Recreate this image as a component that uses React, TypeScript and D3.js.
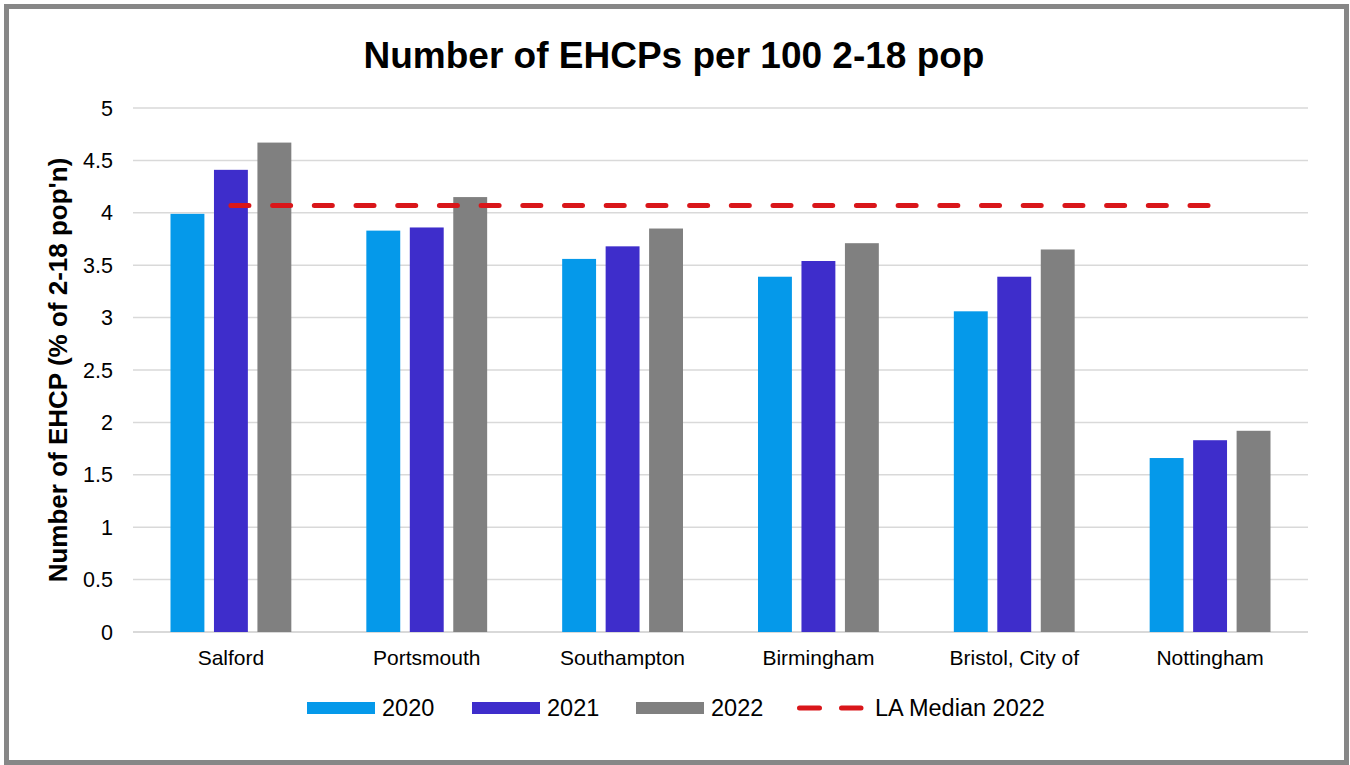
import React from "react";
import * as d3 from "d3";

const categories = ["Salford", "Portsmouth", "Southampton", "Birmingham", "Bristol, City of", "Nottingham"];
const seriesNames = ["2020", "2021", "2022"];
const values2020 = [3.99, 3.83, 3.56, 3.39, 3.06, 1.66];
const values2021 = [4.41, 3.86, 3.68, 3.54, 3.39, 1.83];
const values2022 = [4.67, 4.15, 3.85, 3.71, 3.65, 1.92];
const medianValue = 4.07;
const yTicks = [0, 0.5, 1, 1.5, 2, 2.5, 3, 3.5, 4, 4.5, 5];
const colors = ["#0599EA", "#3E2DCB", "#808080"];
const medianColor = "#D9161A";

export default function App() {
  const W = 1350, H = 765;
  const left = 133, right = 1308, top = 108, bottom = 632;
  const x = d3.scaleBand().domain(categories).range([left, right]).paddingInner(0).paddingOuter(0);
  const inner = d3.scaleBand().domain(seriesNames).range([37.5, x.bandwidth() - 37.5]).paddingInner(0.22);
  const y = d3.scaleLinear().domain([0, 5]).range([bottom, top]);
  const series = [values2020, values2021, values2022];
  const font = "Liberation Sans, Arial, sans-serif";
  const x0 = x(categories[0])! + x.bandwidth() / 2;
  const x1 = x(categories[categories.length - 1])! + x.bandwidth() / 2;
  const legendItems = [
    { label: "2020", sx: 307, tx: 382, color: colors[0] },
    { label: "2021", sx: 472, tx: 547, color: colors[1] },
    { label: "2022", sx: 636, tx: 711, color: colors[2] },
  ];
  return (
    <svg width={W} height={H} style={{ position: "absolute", left: 0, top: 0 }} fontFamily={font}>
      <rect x={0} y={0} width={W} height={H} fill="#fff" />
      <rect x={6.5} y={6.5} width={W - 10} height={H - 9} fill="#fff" stroke="#878787" strokeWidth={5} />
      <text x={674} y={68} textAnchor="middle" fontSize={37} fontWeight="bold" fill="#000">
        Number of EHCPs per 100 2-18 pop
      </text>
      {yTicks.map((t) => (
        <g key={t}>
          <line x1={left} x2={right} y1={y(t)} y2={y(t)} stroke="#d9d9d9" strokeWidth={t === 0 ? 2 : 1.5} />
          <text x={113} y={y(t)} dy="0.35em" textAnchor="end" fontSize={21.5} fill="#000">
            {t}
          </text>
        </g>
      ))}
      <text
        transform={`translate(58,${370}) rotate(-90)`}
        textAnchor="middle"
        dy="0.35em"
        fontSize={26}
        fontWeight="bold"
        fill="#000"
      >
        Number of EHCP (% of 2-18 pop'n)
      </text>
      {categories.map((c, i) => (
        <g key={c}>
          {series.map((vals, s) => (
            <rect
              key={s}
              x={x(c)! + inner(seriesNames[s])!}
              y={y(vals[i])}
              width={inner.bandwidth()}
              height={y(0) - y(vals[i])}
              fill={colors[s]}
            />
          ))}
          <text x={x(c)! + x.bandwidth() / 2} y={665} textAnchor="middle" fontSize={21} fill="#000">
            {c}
          </text>
        </g>
      ))}
      <line
        x1={x0}
        x2={x1}
        y1={y(medianValue)}
        y2={y(medianValue)}
        stroke={medianColor}
        strokeWidth={5}
        strokeDasharray="18 23.7"
        strokeLinecap="round"
      />
      {legendItems.map((l) => (
        <g key={l.label}>
          <rect x={l.sx} y={702} width={68} height={12} fill={l.color} />
          <text x={l.tx} y={708} dy="0.35em" fontSize={23.5} fill="#000">
            {l.label}
          </text>
        </g>
      ))}
      <line x1={799.5} x2={861} y1={708} y2={708} stroke={medianColor} strokeWidth={5} strokeDasharray="20 22" strokeLinecap="round" />
      <text x={875} y={708} dy="0.35em" fontSize={23.5} fill="#000">
        LA Median 2022
      </text>
    </svg>
  );
}
